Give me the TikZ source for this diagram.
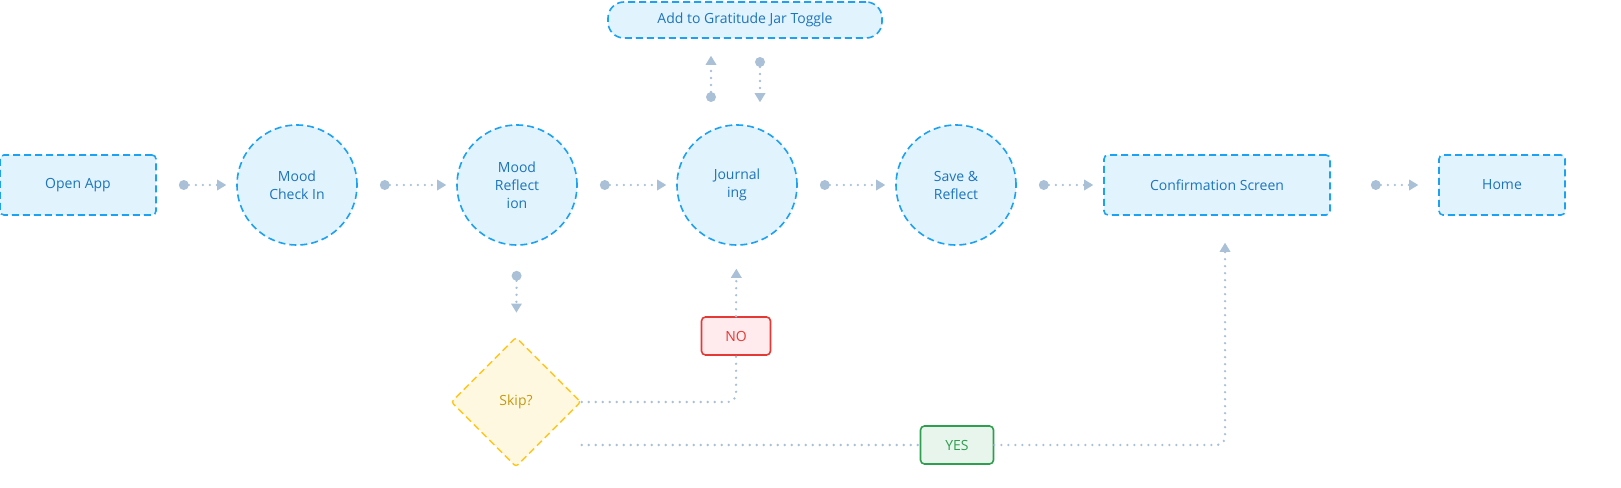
\documentclass[tikz,border=0pt]{standalone}
\usepackage{fontspec}
\setmainfont{Open Sans}
\usetikzlibrary{shapes.geometric,arrows.meta}
\definecolor{boxfill}{HTML}{E1F3FD}
\definecolor{boxline}{HTML}{1DA1F2}
\definecolor{boxtext}{HTML}{1C75BC}
\definecolor{linkcol}{HTML}{A9C0D6}
\definecolor{skipfill}{HTML}{FFF8E1}
\definecolor{skipline}{HTML}{FFC61A}
\definecolor{skiptext}{HTML}{C49A12}
\definecolor{nofill}{HTML}{FFEBEE}
\definecolor{noline}{HTML}{E53935}
\definecolor{yesfill}{HTML}{E8F5EC}
\definecolor{yesline}{HTML}{2E9E4F}
\begin{document}
\begin{tikzpicture}[x=1pt,y=-1pt,
  every node/.style={font=\fontsize{14}{18}\selectfont, align=center, inner sep=0pt},
  screen/.style={draw=boxline, fill=boxfill, text=boxtext, line width=1.6pt,
    dash pattern=on 7pt off 4pt, rounded corners=4pt, minimum height=60pt},
  stage/.style={draw=boxline, fill=boxfill, text=boxtext, line width=1.6pt,
    dash pattern=on 7pt off 4pt, circle, minimum size=120pt},
  ask/.style={draw=skipline, fill=skipfill, text=skiptext, line width=1.4pt,
    dash pattern=on 7pt off 4pt, diamond, minimum size=130pt, rounded corners=3pt},
  tag/.style={line width=1.6pt, rounded corners=4pt, minimum height=38pt},
  link/.style={draw=linkcol, line width=2.6pt, dash pattern=on 0pt off 7pt, line cap=round,
    {Circle[length=10pt,line width=0pt,fill=linkcol]}-{Triangle[length=9pt,width=11pt,line width=0pt,fill=linkcol]}},
  tail/.style={draw=linkcol, line width=2.6pt, dash pattern=on 0pt off 7pt, line cap=round,
    -{Triangle[length=9pt,width=11pt,line width=0pt,fill=linkcol]}},
  hop/.style={link, shorten <=22pt, shorten >=10pt}
]
\useasboundingbox (0,0) rectangle (1621,487);

% nodes
\node[screen, minimum width=156pt] (open) at (78,185) {Open App};
\node[stage] (check) at (297,185) {Mood\\Check In};
\node[stage] (reflect) at (517,185) {Mood\\Reflect\\ion};
\node[stage] (journal) at (737,185) {Journal\\ing};
\node[stage] (save) at (956,185) {Save \&\\Reflect};
\node[screen, minimum width=226pt] (confirm) at (1217,185) {Confirmation Screen};
\node[screen, minimum width=126pt] (home) at (1502,185) {Home};
\node[screen, minimum width=274pt, minimum height=36pt, rounded corners=16pt] (jar) at (745,20) {Add to Gratitude Jar Toggle};
\node[ask] (skip) at (516,402) {Skip?};
\node[tag, draw=noline, fill=nofill, text=noline, minimum width=69pt] (no) at (736,336) {NO};
\node[tag, draw=yesline, fill=yesfill, text=yesline, minimum width=73pt] (yes) at (957,445) {YES};

% free ends
\coordinate (jup) at (711,102);
\coordinate (jdn) at (760,57);
\coordinate (ybend) at (1225,445);

% main flow
\draw[hop] (open) -- (check);
\draw[hop] (check) -- (reflect);
\draw[hop] (reflect) -- (journal);
\draw[hop] (journal) -- (save);
\draw[hop] (save) -- (confirm);
\draw[hop, shorten <=40pt, shorten >=20pt] (confirm) -- (home);
\draw[link, shorten >=17pt] (jup) -- (jar.south -| jup);
\draw[link, shorten >=22pt] (jdn) -- (jdn |- journal.north);
\draw[link, shorten <=25pt, shorten >=24pt] (reflect) -- (skip);

% skip branches
\draw[link, -, rounded corners=8pt] (skip.east |- 0,402) -- (no.south |- 0,402) -- (no.south);
\draw[tail, shorten >=23pt] (no.north) -- (journal);
\draw[link, -] (skip.east |- 0,445) -- (yes.west);
\draw[tail, shorten >=27pt, rounded corners=8pt] (yes.east) -- (ybend) -- (confirm.south -| ybend);
\end{tikzpicture}
\end{document}
